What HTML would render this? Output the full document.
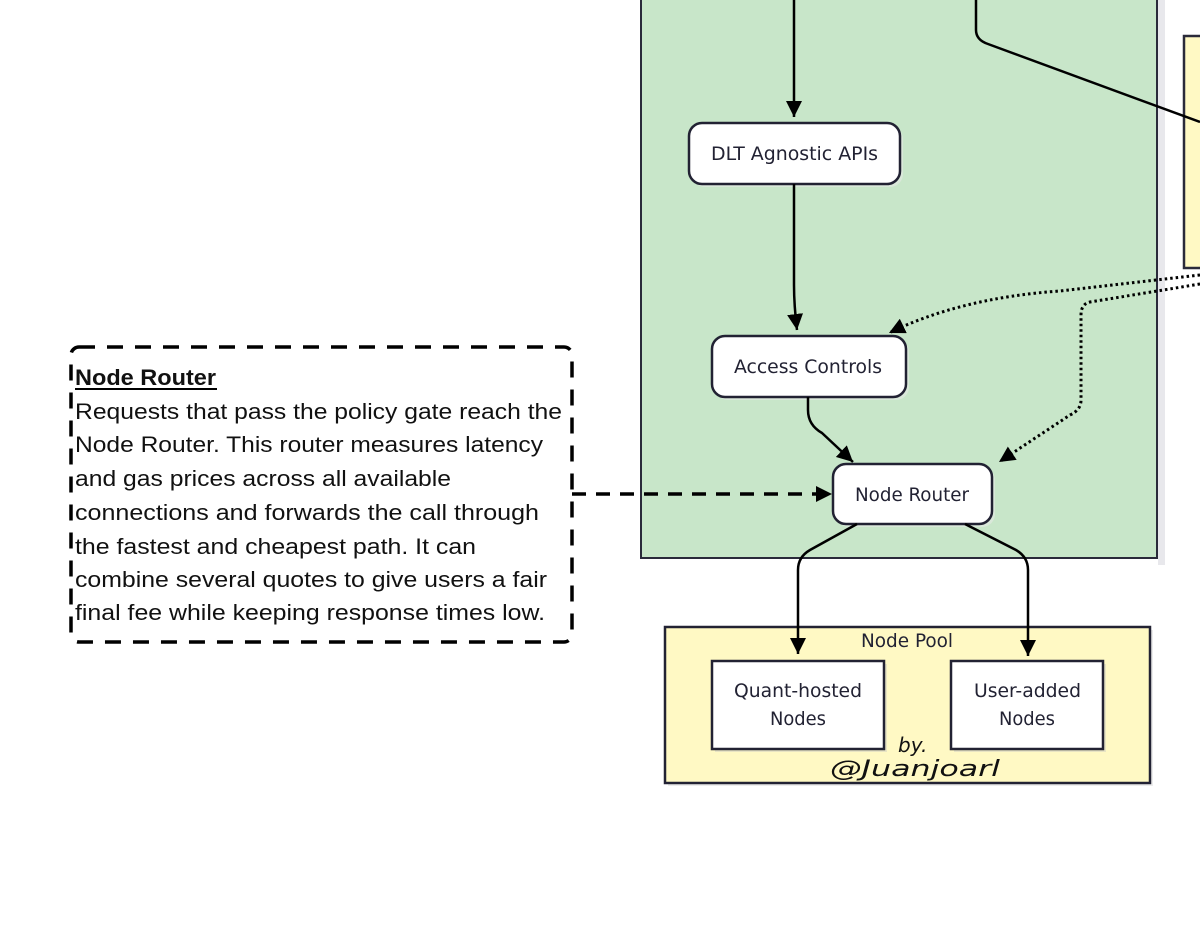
<!DOCTYPE html>
<html><head><meta charset="utf-8"><style>
html,body{margin:0;padding:0;background:#fff;width:1200px;height:933px;overflow:hidden}
svg{display:block}
.n{font-family:"DejaVu Sans Condensed","Liberation Sans",sans-serif;font-size:19px;fill:#222233}
.t{font-family:"Liberation Sans",sans-serif;font-size:22px;fill:#111}
</style></head><body>
<svg width="1200" height="933" viewBox="0 0 1200 933" xmlns="http://www.w3.org/2000/svg">
<defs>
<marker id="b" markerWidth="16" markerHeight="16" refX="14" refY="7" orient="auto" markerUnits="userSpaceOnUse" viewBox="0 0 14 14">
<path d="M0,0 L14,7 L0,14 z" fill="#000"/></marker>
</defs>
<rect x="1158" y="0" width="7" height="565" fill="#e8e8ec"/>
<rect x="641" y="-5" width="516" height="563" fill="#c8e6c9" stroke="#2a2a3a" stroke-width="2"/>
<rect x="1184" y="36" width="30" height="232" fill="#fff9c4" stroke="#2a2a3a" stroke-width="2.5"/>
<line x1="794" y1="0" x2="794" y2="117" stroke="#000" stroke-width="2.5" marker-end="url(#b)"/>
<path d="M976,0 L976,30 Q976,40 988,44 L1200,122" fill="none" stroke="#000" stroke-width="2.5"/>
<rect x="692" y="126" width="211" height="61" rx="13" fill="#dfe8df" opacity="0.8"/>
<rect x="689" y="123" width="211" height="61" rx="13" fill="#fff" stroke="#222233" stroke-width="2.5"/>
<text class="n" x="711" y="160" textLength="167" lengthAdjust="spacingAndGlyphs">DLT Agnostic APIs</text>
<path d="M794,184 L794,285 Q794,305 797,330" fill="none" stroke="#000" stroke-width="2.5" marker-end="url(#b)"/>
<path d="M1200,275 L1060,291 Q960,298 889,333" fill="none" stroke="#000" stroke-width="3" stroke-dasharray="2.5,3" marker-end="url(#b)"/>
<path d="M1200,284 L1090,302 Q1081,304 1081,315 L1081,400 Q1081,410 1070,415 L999,462" fill="none" stroke="#000" stroke-width="3" stroke-dasharray="2.5,3" marker-end="url(#b)"/>
<rect x="715" y="339" width="194" height="61" rx="13" fill="#dfe8df" opacity="0.8"/>
<rect x="712" y="336" width="194" height="61" rx="13" fill="#fff" stroke="#222233" stroke-width="2.5"/>
<text class="n" x="734" y="373" textLength="148" lengthAdjust="spacingAndGlyphs">Access Controls</text>
<path d="M808,397 L808,410 Q808,425 822,433 L853,462" fill="none" stroke="#000" stroke-width="2.5" marker-end="url(#b)"/>
<rect x="836" y="467" width="159" height="60" rx="13" fill="#dfe8df" opacity="0.8"/>
<rect x="833" y="464" width="159" height="60" rx="13" fill="#fff" stroke="#222233" stroke-width="2.5"/>
<text class="n" x="855" y="501" textLength="114" lengthAdjust="spacingAndGlyphs">Node Router</text>
<line x1="572" y1="494" x2="832" y2="494" stroke="#000" stroke-width="3.5" stroke-dasharray="14,10" marker-end="url(#b)"/>
<rect x="668" y="630" width="485" height="156" fill="#ececec"/>
<rect x="665" y="627" width="485" height="156" fill="#fff9c4" stroke="#222233" stroke-width="2.5"/>
<text class="n" x="861" y="647" textLength="92" lengthAdjust="spacingAndGlyphs">Node Pool</text>
<path d="M857,524 L810,550 Q798,557 798,570 L798,654" fill="none" stroke="#000" stroke-width="2.5" marker-end="url(#b)"/>
<path d="M965,524 L1016,550 Q1028,557 1028,570 L1028,656" fill="none" stroke="#000" stroke-width="2.5" marker-end="url(#b)"/>
<rect x="715" y="664" width="172" height="88" fill="#e8e4c4"/>
<rect x="712" y="661" width="172" height="88" fill="#fff" stroke="#222233" stroke-width="2.5"/>
<text class="n" x="734" y="697" textLength="128" lengthAdjust="spacingAndGlyphs">Quant-hosted</text>
<text class="n" x="770" y="725" textLength="56" lengthAdjust="spacingAndGlyphs">Nodes</text>
<rect x="954" y="664" width="152" height="88" fill="#e8e4c4"/>
<rect x="951" y="661" width="152" height="88" fill="#fff" stroke="#222233" stroke-width="2.5"/>
<text class="n" x="974" y="697" textLength="107" lengthAdjust="spacingAndGlyphs">User-added</text>
<text class="n" x="999" y="725" textLength="56" lengthAdjust="spacingAndGlyphs">Nodes</text>
<text x="898" y="752" font-family="DejaVu Sans" font-size="20" fill="#111" font-style="italic">by.</text>
<text x="830" y="776" font-family="DejaVu Sans" font-size="22" fill="#111" font-style="italic" textLength="170" lengthAdjust="spacingAndGlyphs">@Juanjoarl</text>
<rect x="71" y="347" width="501" height="295" rx="8" fill="#fff" stroke="#000" stroke-width="3.5" stroke-dasharray="16,12"/>
<text class="t" x="75" y="385" font-weight="bold" textLength="141" lengthAdjust="spacingAndGlyphs">Node Router</text>
<line x1="75" y1="389" x2="217" y2="389" stroke="#000" stroke-width="2"/>
<text class="t" x="75" y="419" textLength="487" lengthAdjust="spacingAndGlyphs">Requests that pass the policy gate reach the</text>
<text class="t" x="75" y="452" textLength="468" lengthAdjust="spacingAndGlyphs">Node Router. This router measures latency</text>
<text class="t" x="75" y="486" textLength="376" lengthAdjust="spacingAndGlyphs">and gas prices across all available</text>
<text class="t" x="75" y="520" textLength="464" lengthAdjust="spacingAndGlyphs">connections and forwards the call through</text>
<text class="t" x="75" y="554" textLength="401" lengthAdjust="spacingAndGlyphs">the fastest and cheapest path. It can</text>
<text class="t" x="75" y="587" textLength="472" lengthAdjust="spacingAndGlyphs">combine several quotes to give users a fair</text>
<text class="t" x="75" y="620" textLength="470" lengthAdjust="spacingAndGlyphs">final fee while keeping response times low.</text>
</svg>
</body></html>
